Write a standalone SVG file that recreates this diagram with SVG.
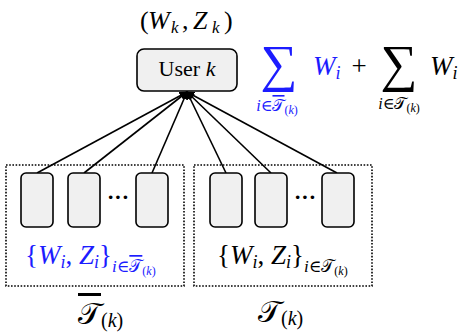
<svg xmlns="http://www.w3.org/2000/svg" width="459" height="333" viewBox="0 0 459 333">
<defs>
<style>
.t{font-family:"Liberation Serif","DejaVu Serif",serif;}
.it{font-style:italic;}
.blue{fill:#1c1cff;}
.node{fill:#f0f0f0;stroke:#000;stroke-width:1.6;}
.grp{fill:none;stroke:#000;stroke-width:1.6;stroke-dasharray:1.6 1.6;}
.edge{stroke:#000;stroke-width:1.6;fill:none;marker-end:url(#ah);}
.cal{font-family:"DejaVu Sans",sans-serif;font-style:normal;}
</style>
<marker id="ah" viewBox="0 0 10 10" refX="9" refY="5" markerWidth="5" markerHeight="5" orient="auto" markerUnits="strokeWidth">
<path d="M0,0 L10,5 L0,10 z" fill="#000"/>
</marker>
</defs>

<g id="group-left"><rect class="grp" x="6" y="165" width="178" height="121"/></g>
<g id="group-right"><rect class="grp" x="194" y="165" width="178" height="121"/></g>

<g id="edges">
<line class="edge" x1="37" y1="173" x2="187" y2="92"/>
<line class="edge" x1="84" y1="173" x2="187" y2="92"/>
<line class="edge" x1="152" y1="173" x2="187" y2="92"/>
<line class="edge" x1="226" y1="173" x2="187" y2="92"/>
<line class="edge" x1="271" y1="173" x2="187" y2="92"/>
<line class="edge" x1="337" y1="173" x2="187" y2="92"/>
</g>

<g id="user-k">
<rect class="node" x="137" y="49" width="100" height="42" rx="7"/>
<text class="t" x="187" y="76" style="font-size:22px" text-anchor="middle">User <tspan class="it">k</tspan></text>
</g>

<g id="n1"><rect class="node" x="21" y="173" width="32" height="54" rx="5"/></g>
<g id="n2"><rect class="node" x="68" y="173" width="32" height="54" rx="5"/></g>
<g id="n3"><rect class="node" x="136" y="173" width="32" height="54" rx="5"/></g>
<g id="n4"><rect class="node" x="210" y="173" width="32" height="54" rx="5"/></g>
<g id="n5"><rect class="node" x="255" y="173" width="32" height="54" rx="5"/></g>
<g id="n6"><rect class="node" x="322" y="173" width="32" height="54" rx="5"/></g>

<g id="dots">
<text class="t" x="118" y="204" style="font-size:22px;font-weight:bold" text-anchor="middle">···</text>
<text class="t" x="305" y="204" style="font-size:22px;font-weight:bold" text-anchor="middle">···</text>
</g>

<g id="labels">
<text class="t" y="29" style="font-size:26px"><tspan x="140">(</tspan><tspan class="it" x="148">W</tspan><tspan class="it" x="171" y="33" style="font-size:17px">k</tspan><tspan x="182" y="29">,</tspan><tspan class="it" x="193">Z</tspan><tspan class="it" x="212" y="33" style="font-size:17px">k</tspan><tspan x="224" y="29">)</tspan></text>

<text class="t blue" x="279" y="81" style="font-size:52px" text-anchor="middle">∑</text>
<text class="t blue it" x="313" y="75" style="font-size:27px">W<tspan style="font-size:18px" dy="4">i</tspan></text>
<text class="t" x="359" y="75" style="font-size:27px" text-anchor="middle">+</text>
<text class="t" x="399" y="81" style="font-size:52px" text-anchor="middle">∑</text>
<text class="t it" x="430" y="75" style="font-size:27px">W<tspan style="font-size:18px" dy="4">i</tspan></text>

<text class="t blue" x="277" y="111" style="font-size:16px" text-anchor="middle"><tspan class="it">i</tspan>∈<tspan class="cal" text-decoration="overline">𝒯</tspan><tspan style="font-size:12px" dy="3">(<tspan class="it">k</tspan>)</tspan></text>
<text class="t" x="399" y="109" style="font-size:16px" text-anchor="middle"><tspan class="it">i</tspan>∈<tspan class="cal">𝒯</tspan><tspan style="font-size:12px" dy="3">(<tspan class="it">k</tspan>)</tspan></text>

<text class="t blue" x="25" y="264" style="font-size:27px">{<tspan class="it">W</tspan><tspan class="it" style="font-size:18px" dy="4">i</tspan><tspan dy="-4">, </tspan><tspan class="it">Z</tspan><tspan class="it" style="font-size:18px" dy="4">i</tspan><tspan dy="-4">}</tspan><tspan style="font-size:17px" dy="8"><tspan class="it">i</tspan>∈<tspan class="cal" text-decoration="overline">𝒯</tspan><tspan style="font-size:12px" dy="3">(<tspan class="it">k</tspan>)</tspan></tspan></text>
<text class="t" x="217" y="264" style="font-size:27px">{<tspan class="it">W</tspan><tspan class="it" style="font-size:18px" dy="4">i</tspan><tspan dy="-4">, </tspan><tspan class="it">Z</tspan><tspan class="it" style="font-size:18px" dy="4">i</tspan><tspan dy="-4">}</tspan><tspan style="font-size:17px" dy="8"><tspan class="it">i</tspan>∈<tspan class="cal">𝒯</tspan><tspan style="font-size:12px" dy="3">(<tspan class="it">k</tspan>)</tspan></tspan></text>

<text class="t" x="78" y="324" style="font-size:30px"><tspan class="cal" text-decoration="overline">𝒯</tspan><tspan style="font-size:20px" dy="3">(<tspan class="it">k</tspan>)</tspan></text>
<text class="t" x="258" y="322" style="font-size:30px"><tspan class="cal">𝒯</tspan><tspan style="font-size:20px" dy="3">(<tspan class="it">k</tspan>)</tspan></text>
</g>
</svg>
